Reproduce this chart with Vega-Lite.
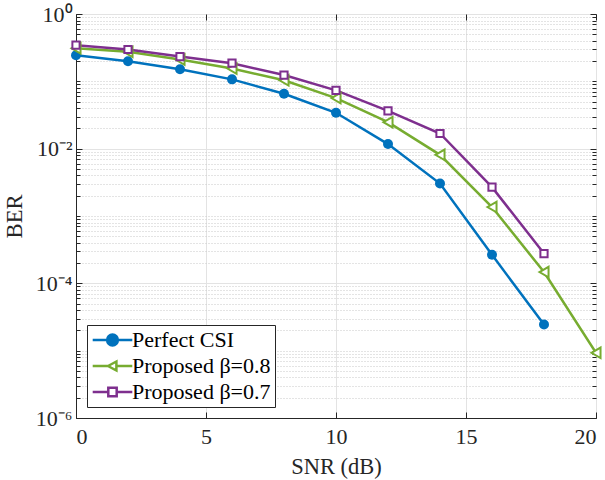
{
  "$schema": "https://vega.github.io/schema/vega-lite/v6.json",
  "autosize": "none",
  "width": 520,
  "height": 404,
  "padding": {"left": 76, "top": 14, "right": 9, "bottom": 62},
  "background": "white",
  "config": {
    "view": {"stroke": "#262626", "strokeWidth": 1},
    "axis": {
      "labelFont": "Liberation Serif", "labelFontSize": 22, "labelColor": "#262626",
      "titleFont": "Liberation Serif", "titleFontSize": 22.5, "titleFontWeight": "normal", "titleColor": "#262626",
      "tickColor": "#262626", "domainColor": "#262626", "labelOverlap": false
    }
  },
  "data": {"values": [
    {"snr": 0, "ber": 0.244, "series": "Perfect CSI"},
    {"snr": 2, "ber": 0.199, "series": "Perfect CSI"},
    {"snr": 4, "ber": 0.151, "series": "Perfect CSI"},
    {"snr": 6, "ber": 0.107, "series": "Perfect CSI"},
    {"snr": 8, "ber": 0.0655, "series": "Perfect CSI"},
    {"snr": 10, "ber": 0.0341, "series": "Perfect CSI"},
    {"snr": 12, "ber": 0.0117, "series": "Perfect CSI"},
    {"snr": 14, "ber": 0.00303, "series": "Perfect CSI"},
    {"snr": 16, "ber": 0.000265, "series": "Perfect CSI"},
    {"snr": 18, "ber": 0.0000244, "series": "Perfect CSI"},
    {"snr": 0, "ber": 0.31, "series": "Proposed β=0.8"},
    {"snr": 2, "ber": 0.274, "series": "Proposed β=0.8"},
    {"snr": 4, "ber": 0.211, "series": "Proposed β=0.8"},
    {"snr": 6, "ber": 0.155, "series": "Proposed β=0.8"},
    {"snr": 8, "ber": 0.1035, "series": "Proposed β=0.8"},
    {"snr": 10, "ber": 0.0564, "series": "Proposed β=0.8"},
    {"snr": 12, "ber": 0.0247, "series": "Proposed β=0.8"},
    {"snr": 14, "ber": 0.0081, "series": "Proposed β=0.8"},
    {"snr": 16, "ber": 0.00136, "series": "Proposed β=0.8"},
    {"snr": 18, "ber": 0.000147, "series": "Proposed β=0.8"},
    {"snr": 20, "ber": 0.0000093, "series": "Proposed β=0.8"},
    {"snr": 0, "ber": 0.344, "series": "Proposed β=0.7"},
    {"snr": 2, "ber": 0.297, "series": "Proposed β=0.7"},
    {"snr": 4, "ber": 0.233, "series": "Proposed β=0.7"},
    {"snr": 6, "ber": 0.186, "series": "Proposed β=0.7"},
    {"snr": 8, "ber": 0.124, "series": "Proposed β=0.7"},
    {"snr": 10, "ber": 0.0734, "series": "Proposed β=0.7"},
    {"snr": 12, "ber": 0.0365, "series": "Proposed β=0.7"},
    {"snr": 14, "ber": 0.0168, "series": "Proposed β=0.7"},
    {"snr": 16, "ber": 0.00268, "series": "Proposed β=0.7"},
    {"snr": 18, "ber": 0.000277, "series": "Proposed β=0.7"}
  ]},
  "resolve": {"axis": {"x": "independent", "y": "independent"}},
  "layer": [
    {
      "mark": {"type": "line", "strokeWidth": 2.5, "clip": true},
      "encoding": {
        "x": {"field": "snr", "type": "quantitative",
          "scale": {"domain": [0, 20], "nice": false, "zero": false},
          "axis": {"title": "SNR (dB)", "values": [0, 5, 10, 15, 20], "grid": true, "gridColor": "#e3e3e3", "gridWidth": 1,
            "tickSize": -6, "labelPadding": 14.5, "titlePadding": 8}},
        "y": {"field": "ber", "type": "quantitative",
          "scale": {"type": "log", "domain": [0.000001, 1], "nice": false},
          "axis": {"title": "BER",
            "values": [1, 0.01, 0.0001, 0.000001,
              0.9, 0.8, 0.7, 0.6, 0.5, 0.4, 0.3, 0.2, 0.1,
              0.09, 0.08, 0.07, 0.06, 0.05, 0.04, 0.03, 0.02,
              0.009, 0.008, 0.007, 0.006, 0.005, 0.004, 0.003, 0.002, 0.001,
              0.0009, 0.0008, 0.0007, 0.0006, 0.0005, 0.0004, 0.0003, 0.0002,
              0.00009, 0.00008, 0.00007, 0.00006, 0.00005, 0.00004, 0.00003, 0.00002, 0.00001,
              0.000009, 0.000008, 0.000007, 0.000006, 0.000005, 0.000004, 0.000003, 0.000002],
            "labelExpr": "datum.value == 1 ? '10⁰' : datum.value == 0.01 ? '10⁻²' : datum.value == 0.0001 ? '10⁻⁴' : datum.value == 0.000001 ? '10⁻⁶' : ''",
            "grid": true,
            "gridColor": {"condition": {"test": "datum.value == 1 || datum.value == 0.01 || datum.value == 0.0001 || datum.value == 0.000001", "value": "#e3e3e3"}, "value": "#c8c8c8"},
            "gridDash": {"condition": {"test": "datum.value == 1 || datum.value == 0.01 || datum.value == 0.0001 || datum.value == 0.000001", "value": []}, "value": [1, 2]},
            "tickSize": {"condition": {"test": "datum.value == 1 || datum.value == 0.01 || datum.value == 0.0001 || datum.value == 0.000001", "value": -6}, "value": -4},
            "labelPadding": 10, "titlePadding": 9}},
        "color": {"field": "series", "type": "nominal",
          "scale": {"domain": ["Perfect CSI", "Proposed β=0.8", "Proposed β=0.7"], "range": ["#0072BD", "#77AC30", "#7E2F8E"]},
          "legend": {
            "title": null, "orient": "none", "legendX": 11, "legendY": 311,
            "labelFont": "Liberation Serif", "labelFontSize": 22, "labelColor": "#000000",
            "symbolSize": 144, "symbolStrokeWidth": 2.5, "symbolOffset": 10.5, "labelOffset": 8.5,
            "padding": 4, "rowPadding": 4,
            "strokeColor": "#262626", "fillColor": "white", "cornerRadius": 0,
            "encode": {
              "symbols": {"update": {
                "shape": {"signal": "datum.value == 'Perfect CSI' ? 'M-3.3,0H3.3M0.9,0A0.9,0.9,0,1,1,-0.9,0A0.9,0.9,0,1,1,0.9,0Z' : datum.value == 'Proposed β=0.8' ? 'M-3.3,0H-0.75M0.65,0H3.3M-0.75,0L0.65,-0.75L0.65,0.75Z' : 'M-3.3,0H-0.7M0.7,0H3.3M-0.7,-0.7H0.7V0.7H-0.7Z'"},
                "fill": {"signal": "datum.value == 'Perfect CSI' ? '#0072BD' : 'white'"},
                "opacity": {"value": 1},
                "strokeWidth": {"value": 2.5}
              }}
            }
          }}
      }
    },
    {
      "transform": [{"filter": "datum.series == 'Perfect CSI'"}],
      "mark": {"type": "point", "shape": "circle", "filled": true, "color": "#0072BD", "size": 100, "opacity": 1},
      "encoding": {
        "x": {"field": "snr", "type": "quantitative",
          "axis": {"orient": "top", "title": null, "labels": false, "grid": false, "domain": false, "tickSize": -6, "values": [0, 5, 10, 15, 20]}},
        "y": {"field": "ber", "type": "quantitative",
          "axis": {"orient": "right", "title": null, "labels": false, "grid": false, "domain": false,
            "values": [1, 0.01, 0.0001, 0.000001,
              0.9, 0.8, 0.7, 0.6, 0.5, 0.4, 0.3, 0.2, 0.1,
              0.09, 0.08, 0.07, 0.06, 0.05, 0.04, 0.03, 0.02,
              0.009, 0.008, 0.007, 0.006, 0.005, 0.004, 0.003, 0.002, 0.001,
              0.0009, 0.0008, 0.0007, 0.0006, 0.0005, 0.0004, 0.0003, 0.0002,
              0.00009, 0.00008, 0.00007, 0.00006, 0.00005, 0.00004, 0.00003, 0.00002, 0.00001,
              0.000009, 0.000008, 0.000007, 0.000006, 0.000005, 0.000004, 0.000003, 0.000002],
            "tickSize": {"condition": {"test": "datum.value == 1 || datum.value == 0.01 || datum.value == 0.0001 || datum.value == 0.000001", "value": -6}, "value": -4}}}
      }
    },
    {
      "transform": [{"filter": "datum.series == 'Proposed β=0.8'"}],
      "mark": {"type": "point", "shape": "triangle-left", "filled": false, "stroke": "#77AC30", "fill": "#ffffff", "fillOpacity": 1, "strokeWidth": 2, "size": 110, "opacity": 1},
      "encoding": {
        "x": {"field": "snr", "type": "quantitative", "axis": null},
        "y": {"field": "ber", "type": "quantitative", "axis": null}
      }
    },
    {
      "transform": [{"filter": "datum.series == 'Proposed β=0.7'"}],
      "mark": {"type": "point", "shape": "square", "filled": false, "stroke": "#7E2F8E", "fill": "#ffffff", "fillOpacity": 1, "strokeWidth": 2, "size": 52, "opacity": 1},
      "encoding": {
        "x": {"field": "snr", "type": "quantitative", "axis": null},
        "y": {"field": "ber", "type": "quantitative", "axis": null}
      }
    }
  ]
}
